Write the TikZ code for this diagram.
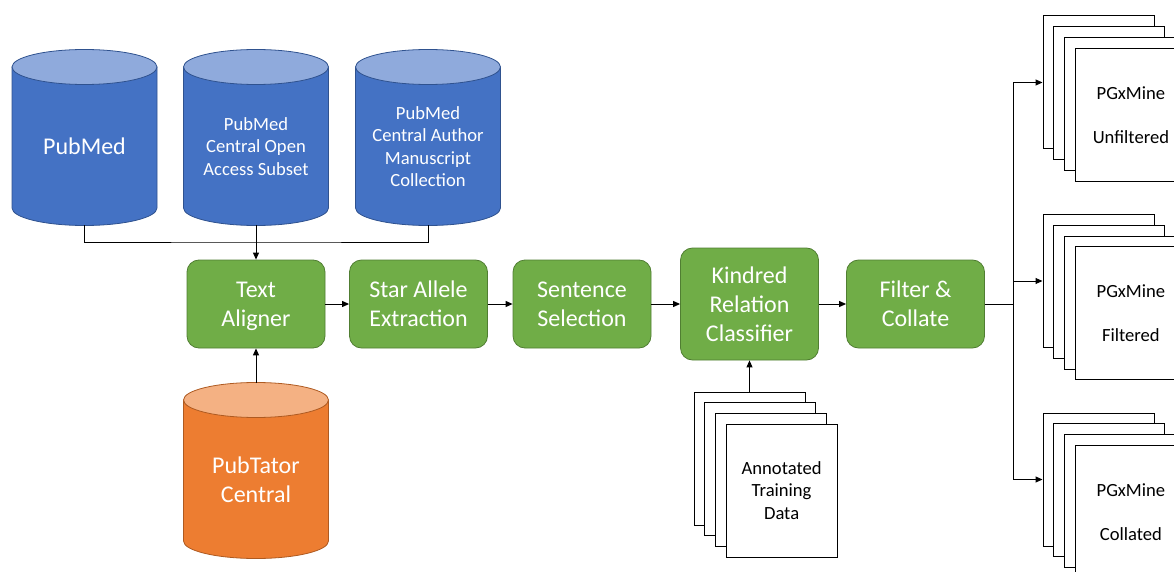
\documentclass[tikz,border=0pt]{standalone}
\usepackage{fontspec}
\setmainfont{Carlito}
\usetikzlibrary{arrows.meta}
\definecolor{dbblue}{HTML}{4472C4}
\definecolor{dbbluetop}{HTML}{8FAADC}
\definecolor{dbblueline}{HTML}{2F528F}
\definecolor{dborange}{HTML}{ED7D31}
\definecolor{dborangetop}{HTML}{F4B183}
\definecolor{dborangeline}{HTML}{AE5A21}
\definecolor{procgreen}{HTML}{70AD47}
\definecolor{procgreenline}{HTML}{507E32}
\newcommand{\bigfont}{\fontsize{24}{29}\selectfont}
\newcommand{\dbfont}{\fontsize{18.6}{22.5}\selectfont}
\def\dbcyl[#1](#2){\draw[#1body] (#2) ++(-72.5,0) -- ++(0,-141) arc[start angle=180,end angle=360,x radius=72.5,y radius=17.5] -- ++(0,141) -- cycle;
	\draw[#1top] (#2) ellipse[x radius=72.5,y radius=17.5];}

\begin{document}
\begin{tikzpicture}[x=1pt,y=1pt,>={Triangle[length=7pt,width=6pt]},
	bluebody/.style={fill=dbblue,draw=dbblueline,line width=0.8pt},
	bluetop/.style={fill=dbbluetop,draw=dbblueline,line width=0.8pt},
	orangebody/.style={fill=dborange,draw=dborangeline,line width=0.8pt},
	orangetop/.style={fill=dborangetop,draw=dborangeline,line width=0.8pt},
	dbnode/.style={align=center,text=white,minimum width=145pt,minimum height=157pt,inner sep=0pt,font=\dbfont},
	procbox/.style={rounded corners=12pt,fill=procgreen,draw=procgreenline,line width=0.8pt,text=white,align=center,minimum width=138pt,minimum height=88pt,inner sep=0pt,font=\bigfont},
	docbox/.style={draw=black,fill=white,line width=1pt,minimum width=111pt,minimum height=133pt,inner sep=0pt,align=center,font=\dbfont},
	link/.style={line width=1pt}]
			%%%%% START %%%%%
			\useasboundingbox (0,0) rectangle (1174,-572);
			
			\dbcyl[blue](84.5,-67)
			\node[dbnode,font=\bigfont] (pubmed) at (84.5,-146.5) {PubMed};
			\dbcyl[blue](256,-67)
			\node[dbnode] (openaccess) at (256,-146.5) {PubMed\\Central Open\\Access Subset};
			\dbcyl[blue](428,-67)
			\node[dbnode] (manuscripts) at (428,-146.5) {PubMed\\Central Author\\Manuscript\\Collection};
			
			\dbcyl[orange](256,-400)
			\node[dbnode,font=\bigfont,minimum height=194pt] (pubtator) at (256,-480) {PubTator\\Central};
			
			\node[procbox] (aligner) at (256,-304) {Text\\Ali\smash{g}ner};
			\node[procbox] (starallele) at (418.5,-304) {Star Allele\\Extraction};
			\node[procbox] (sentences) at (582,-304) {Sentence\\Selection};
			\node[procbox,minimum height=112pt] (kindred) at (749.5,-304) {Kindred\\Relation\\Classifier};
			\node[procbox] (filter) at (915.5,-304) {Filter \&\\Collate};
			
			\coordinate (merge) at (256,-242);
			\draw[link] (pubmed.south) |- (merge) -| (manuscripts.south);
			\draw[link,->] (openaccess.south) -- (aligner.north);
			\draw[link,->] (pubtator.north) -- (aligner.south);
			\draw[link,->] (aligner) -- (starallele);
			\draw[link,->] (starallele) -- (sentences);
			\draw[link,->] (sentences) -- (kindred);
			\draw[link,->] (kindred) -- (filter);
			
			\foreach \i in {0,1,2}
				\node[docbox] (train\i) at ({749.5+10.7*\i},{-458.5-10.7*\i}) {};
			\node[docbox] (train3) at (781.6,-490.6) {Annotated\\Training\\Data};
			\draw[link,->] (train0.north) -- (kindred.south);
			
			\coordinate (fork) at (1013,-304);
			\draw[link] (filter) -- (fork);
			\foreach \name/\txt [count=\k from 0] in {unfiltered/Unfiltered,filtered/Filtered,collated/Collated}{
				\foreach \i in {0,1,2}
					\node[docbox] (\name\i) at ({1098.5+10.8*\i},{-82.5-198.5*\k-10.8*\i}) {};
				\node[docbox] (\name3) at (1130.9,{-114.9-198.5*\k}) {PGxMine\\[21.5pt]\txt};
				\draw[link,->] (fork) |- (\name0.west);
			}
			%%%%% END %%%%%
\end{tikzpicture}
\end{document}
